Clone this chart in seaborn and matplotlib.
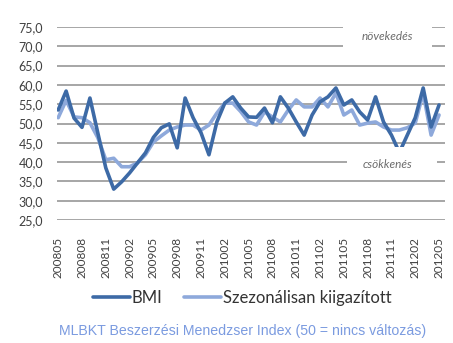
import matplotlib
matplotlib.use("Agg")
import matplotlib.pyplot as plt
import seaborn as sns
import pandas as pd
from matplotlib.patches import Rectangle
from matplotlib.lines import Line2D

months = [f"{y}{m:02d}" for y in range(2008, 2013) for m in range(1, 13)]
months = months[months.index("200805"):months.index("201205") + 1]

bmi = [53.5, 58.4, 51.4, 49.0, 56.6, 47.5, 38.5, 33.0, 34.9, 37.2, 39.8, 42.4,
       46.4, 48.9, 49.9, 43.7, 56.6, 51.5, 47.6, 41.9, 50.4, 55.3, 56.9, 54.0,
       51.7, 51.6, 54.0, 50.2, 56.9, 54.0, 50.4, 47.0, 52.2, 55.6, 56.9, 59.2,
       54.8, 56.1, 53.0, 50.9, 56.9, 50.4, 47.0, 42.5, 47.0, 51.5, 59.2, 49.1,
       54.8]
sa = [51.5, 56.0, 51.7, 51.5, 50.2, 46.3, 40.6, 41.0, 38.8, 38.8, 39.8, 41.9,
      45.2, 46.8, 48.3, 49.1, 49.6, 49.6, 48.3, 49.6, 52.7, 55.3, 55.3, 53.1,
      50.4, 49.6, 53.0, 51.7, 50.4, 53.5, 56.1, 54.3, 54.3, 56.6, 54.3, 57.9,
      52.2, 53.5, 49.6, 50.1, 50.4, 49.1, 48.3, 48.3, 48.9, 50.1, 57.9, 47.0,
      52.2]
series_names = ["BMI", "Szezonálisan kiigazított"]
tick_labels = months[::3]
yticks = [25, 30, 35, 40, 45, 50, 55, 60, 65, 70, 75]
caption = "MLBKT Beszerzési Menedzser Index (50 = nincs változás)"

df = pd.DataFrame({
    "idx": list(range(len(months))) * 2,
    "value": bmi + sa,
    "series": [series_names[0]] * len(bmi) + [series_names[1]] * len(sa),
})

sns.set_theme(style="white")
plt.rcParams["font.family"] = ["Lato", "DejaVu Sans"]

fig = plt.figure(figsize=(4.53, 3.43), dpi=100)
ax = fig.add_axes([57 / 453, 1 - 220 / 343, 388 / 453, 193 / 343])

palette = {series_names[0]: "#3d6aa6", series_names[1]: "#8ea9db"}
sns.lineplot(data=df, x="idx", y="value", hue="series", palette=palette,
             linewidth=2.6, ax=ax, legend=False)
for ln in ax.lines:
    ln.set_zorder(3)
ax.lines[0].set_zorder(4)

ax.set_xlim(-0.15, 48.75)
ax.set_ylim(25, 75)
ax.set_yticks(yticks)
ax.set_yticklabels([f"{v:.1f}".replace(".", ",") for v in yticks],
                   fontsize=9, color="#404040")
ax.set_xticks(list(range(0, len(months), 3)))
ax.set_xticklabels(tick_labels, rotation=90, fontsize=8.5, color="#404040")
ax.tick_params(axis="both", length=0)
ax.tick_params(axis="y", pad=10)
ax.tick_params(axis="x", pad=12)
ax.set_xlabel("")
ax.set_ylabel("")
for s in ax.spines.values():
    s.set_visible(False)
ax.grid(axis="y", color="#a6a6a6", linewidth=1.4, zorder=0)
ax.grid(axis="x", visible=False)
ax.set_axisbelow(True)

# annotation boxes
ax.add_patch(Rectangle((0.737, 0.881), 0.229, 0.14, transform=ax.transAxes,
                       facecolor="white", edgecolor="none", zorder=5, clip_on=False))
ax.text(0.851, 0.952, "növekedés", transform=ax.transAxes, ha="center", va="center",
        fontsize=8.5, style="italic", color="#6b6b6b", zorder=6)
ax.add_patch(Rectangle((0.747, 0.218), 0.232, 0.16, transform=ax.transAxes,
                       facecolor="white", edgecolor="none", zorder=5))
ax.text(0.852, 0.29, "csökkenés", transform=ax.transAxes, ha="center", va="center",
        fontsize=8.5, style="italic", color="#6b6b6b", zorder=6)

# legend
handles = [Line2D([], [], color=palette[n], linewidth=2.6) for n in series_names]
fig.legend(handles, series_names, loc="center", bbox_to_anchor=(0.535, 1 - 298 / 343),
           ncol=2, frameon=False, fontsize=12, handlelength=2.2, columnspacing=1.3,
           handletextpad=0.12, labelcolor="#333333")

fig.text(0.536, 1 - 331 / 343, caption, ha="center", va="center", fontsize=10.2,
         color="#7b9be0", family=["Liberation Sans", "DejaVu Sans"])

fig.savefig("out.png", dpi=100)
